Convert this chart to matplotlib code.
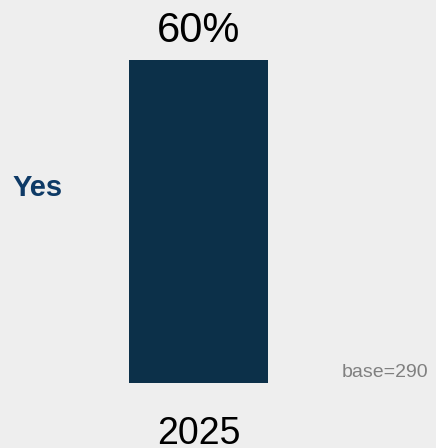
import matplotlib
matplotlib.use("Agg")
import matplotlib.pyplot as plt

# data
years = ["2025"]
share_yes = [60]
row_label = "Yes"
base_n = 290

bg = "#eeeeee"
navy = "#0c3049"

plt.rcParams["font.family"] = ["Liberation Sans", "DejaVu Sans"]

W, H = 436, 448
fig = plt.figure(figsize=(W / 100, H / 100), dpi=100, facecolor=bg)

# axes box sized so the bar fills it horizontally
ax = fig.add_axes([129 / W, (H - 383) / H, 139 / W, 323 / H])
ax.set_facecolor(bg)
x = list(range(len(years)))
ax.bar(x, share_yes, width=1.0, color=navy)
ax.set_xlim(-0.5, 0.5)
ax.set_ylim(0, 60)
ax.axis("off")

for xi, v, yr in zip(x, share_yes, years):
    ax.annotate(f"{v}%", xy=(xi, v), xytext=(0, 13), textcoords="offset points",
                ha="center", va="baseline", fontsize=30, color="black")
    ax.annotate(yr, xy=(xi, 0), xytext=(0, -44), textcoords="offset points",
                ha="center", va="baseline", fontsize=27, color="black")

fig.text(38 / W, (H - 196) / H, row_label, ha="center", va="baseline",
         fontsize=21, fontweight="bold", color="#0e3a66")
fig.text(428 / W, (H - 377) / H, f"base={base_n}", ha="right", va="baseline",
         fontsize=14, color="#808080")

fig.savefig("out.png", dpi=100, facecolor=bg)
